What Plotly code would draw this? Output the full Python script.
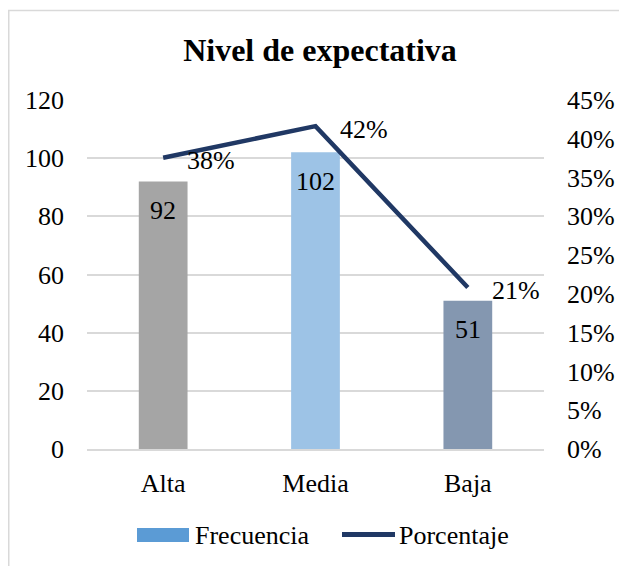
import plotly.graph_objects as go

categories = ["Alta", "Media", "Baja"]
frecuencia = [92, 102, 51]
porcentaje = [0.3755, 0.4163, 0.2082]
bar_colors = ["#A5A5A5", "#9DC3E6", "#8497B0"]
line_color = "#203864"
legend_bar_color = "#5B9BD5"

# page is rendered with an 8px body margin; work in page coordinates
OFF = 8
PAGE_W, PAGE_H = 627, 566
W, H = PAGE_W - OFF, PAGE_H - OFF
PL, PR, PT, PB = 87, 544, 100, 449  # plot area in page coords
L, R, T, B = PL - OFF, PAGE_W - PR, PT - OFF, PAGE_H - PB
PW = PR - PL
PH = PB - PT

def px(x):
    return (x - PL) / PW

def py(y):
    return (PB - y) / PH

FONT = "Liberation Serif"
FS = 26

fig = go.Figure()
fig.add_trace(go.Bar(
    x=categories, y=frecuencia, marker=dict(color=bar_colors, line=dict(width=0)),
    width=0.32, showlegend=False, yaxis="y",
))
fig.add_trace(go.Scatter(
    x=categories, y=porcentaje, mode="lines", yaxis="y2",
    line=dict(color=line_color, width=4.5), showlegend=False,
))

annotations = []
for c, v in zip(categories, frecuencia):
    annotations.append(dict(x=c, y=v, xref="x", yref="y", text=str(v), showarrow=False,
                            yshift=-29, xanchor="center", yanchor="middle",
                            font=dict(family=FONT, size=FS, color="#000000")))
for c, p in zip(categories, porcentaje):
    annotations.append(dict(x=c, y=p, xref="x", yref="y2", text=f"{round(p*100)}%", showarrow=False,
                            xshift=22, yshift=-3, xanchor="left", yanchor="middle",
                            font=dict(family=FONT, size=FS, color="#000000")))

# legend
annotations.append(dict(x=px(193), y=py(535), xref="paper", yref="paper", text="Frecuencia",
                        showarrow=False, xanchor="left", yanchor="middle",
                        font=dict(family=FONT, size=FS, color="#000000")))
annotations.append(dict(x=px(397), y=py(535), xref="paper", yref="paper", text="Porcentaje",
                        showarrow=False, xanchor="left", yanchor="middle",
                        font=dict(family=FONT, size=FS, color="#000000")))

shapes = [
    dict(type="rect", xref="paper", yref="paper", x0=px(8.75), x1=px(660), y0=py(600), y1=py(10.5),
         line=dict(color="#D9D9D9", width=1.5), fillcolor="rgba(0,0,0,0)", layer="below"),
    dict(type="rect", xref="paper", yref="paper", x0=px(137), x1=px(189), y0=py(542), y1=py(528),
         line=dict(width=0), fillcolor=legend_bar_color),
    dict(type="line", xref="paper", yref="paper", x0=px(342), x1=px(395), y0=py(534.5), y1=py(534.5),
         line=dict(color=line_color, width=5)),
]

fig.update_layout(
    width=W, height=H,
    margin=dict(l=L, r=R, t=T, b=B, pad=0),
    paper_bgcolor="white", plot_bgcolor="white",
    font=dict(family=FONT, size=FS, color="#000000"),
    title=dict(text="<b>Nivel de expectativa</b>", x=px(320), xref="paper", xanchor="center",
               y=1 - (50 - OFF) / H, yref="container", yanchor="middle",
               font=dict(family=FONT, size=32, color="#000000")),
    xaxis=dict(type="category", showline=True, linecolor="#D9D9D9", linewidth=1.5,
               showgrid=False, ticks="", ticklabelstandoff=10,
               tickfont=dict(family=FONT, size=FS, color="#000000")),
    yaxis=dict(range=[0, 120], dtick=20, showgrid=True, gridcolor="#D9D9D9", gridwidth=1.5,
               zeroline=False, showline=False, ticks="", ticklabelstandoff=22,
               tickfont=dict(family=FONT, size=FS, color="#000000")),
    yaxis2=dict(range=[0, 0.45], dtick=0.05, tickformat=".0%", overlaying="y", side="right",
                showgrid=False, zeroline=False, showline=False, ticks="", ticklabelstandoff=22,
                tickfont=dict(family=FONT, size=FS, color="#000000")),
    annotations=annotations,
    shapes=shapes,
    showlegend=False,
)

fig.write_html("out.html")
